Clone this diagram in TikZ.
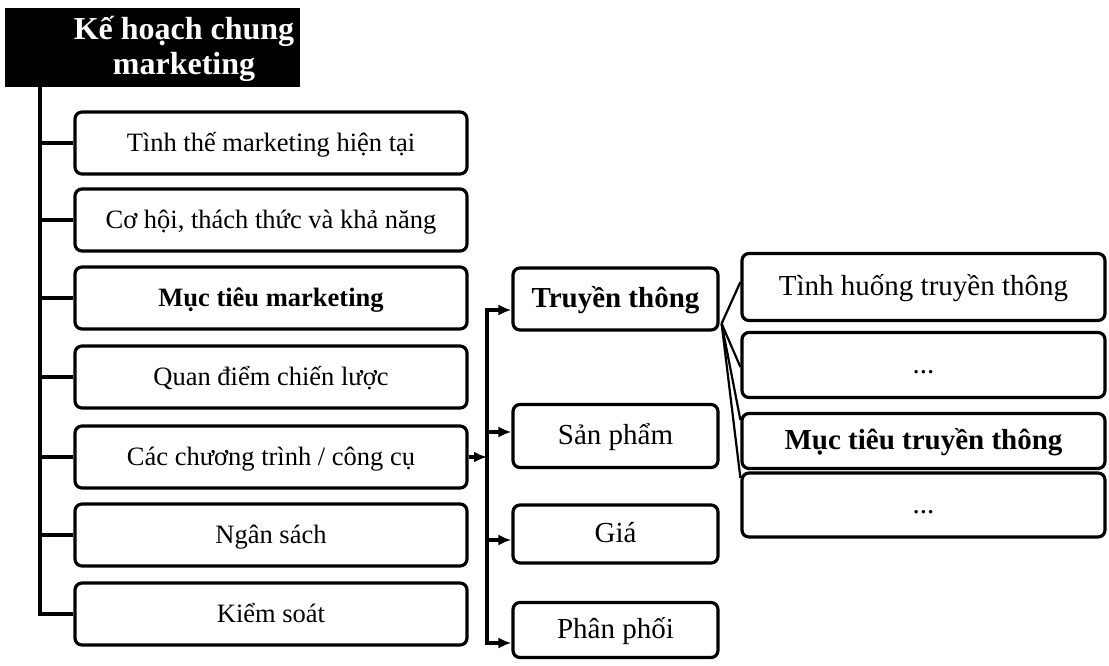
\documentclass[tikz,border=0pt]{standalone}
\usepackage{fontspec}
\setmainfont{Liberation Serif}
\usetikzlibrary{arrows.meta,calc}
\begin{document}
\begin{tikzpicture}[x=1pt,y=-1pt,
  box/.style={draw=black, line width=3.2pt, rounded corners=7pt, fill=white,
              inner sep=0pt, text height=22pt, text depth=5pt,
              font=\fontsize{26.5}{30}\selectfont},
  lbox/.style={box, minimum width=392pt, minimum height=62pt},
  mbox/.style={box, minimum width=205pt, font=\fontsize{29}{32}\selectfont},
  rbox/.style={box, minimum width=363pt, font=\fontsize{29}{32}\selectfont},
  link/.style={line width=3.2pt},
  fanline/.style={line width=2.2pt},
  arr/.style={link, -{Latex[length=13pt,width=11pt]}},
]
\useasboundingbox (0,0) rectangle (1109,665);

% title block
\node[fill=black, minimum width=295pt, minimum height=79pt, inner sep=0pt] (titlebox) at (152.5,47.5) {};
\node[text=white, font=\fontsize{32}{35}\selectfont\bfseries, align=center] (title) at (184,49) {Kế hoạch chung\\marketing};

% main plan sections
\node[lbox] (b1) at (271,143) {Tình thế marketing hiện tại};
\node[lbox] (b2) at (271,220) {Cơ hội, thách thức và khả năng};
\node[lbox, font=\fontsize{26.5}{30}\selectfont\bfseries] (b3) at (271,298) {Mục tiêu marketing};
\node[lbox] (b4) at (271,377) {Quan điểm chiến lược};
\node[lbox] (b5) at (271,457) {Các chương trình / công cụ};
\node[lbox] (b6) at (271,535) {Ngân sách};
\node[lbox] (b7) at (271,614) {Kiểm soát};

% left trunk
\coordinate (trunk) at (40,87);
\foreach \b in {b1,b2,b3,b4,b5,b6,b7}
  \draw[link] (trunk) |- (\b.west);

% marketing mix
\node[mbox, minimum height=62pt, font=\fontsize{29}{32}\selectfont\bfseries] (tt) at (615.5,299) {Truyền thông};
\node[mbox, minimum height=63pt] (sp) at (615.5,436) {Sản phẩm};
\node[mbox, minimum height=58pt] (gia) at (615.5,534) {Giá};
\node[mbox, minimum height=55pt] (pp) at (615.5,630) {Phân phối};

\coordinate (hub) at (487,457);
\draw[arr] (b5.east) -- (hub);
\draw[arr] (hub) |- ([yshift=-11pt]tt.west);
\draw[arr] (hub) |- ([yshift=4pt]sp.west);
\draw[arr] (hub) |- ([yshift=-6pt]gia.west);
\draw[arr] (hub) |- ([yshift=-13pt]pp.west);

% communication details
\node[rbox, minimum height=67pt] (r1) at (923.5,287) {Tình huống truyền thông};
\node[rbox, minimum height=65pt] (r2) at (923.5,365) {...};
\node[rbox, minimum height=55pt, font=\fontsize{29}{32}\selectfont\bfseries] (r3) at (923.5,441) {Mục tiêu truyền thông};
\node[rbox, minimum height=64pt] (r4) at (923.5,505) {...};

\coordinate (fan) at ($(tt.south east)+(2,-8)$);
\draw[fanline] (fan) -- ([yshift=5pt]r1.west);
\draw[fanline] (fan) -- ([yshift=-2pt]r2.west);
\draw[fanline] (fan) -- ([yshift=21pt]r3.west);
\draw[fanline] (fan) -- ([yshift=27pt]r4.west);
\end{tikzpicture}
\end{document}
